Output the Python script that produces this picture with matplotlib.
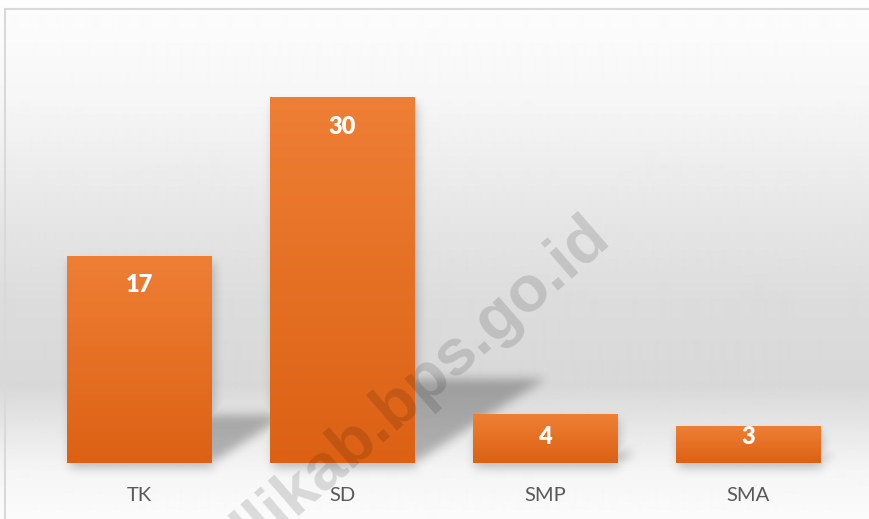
import numpy as np
import matplotlib.pyplot as plt
from matplotlib.colors import LinearSegmentedColormap
from matplotlib.patches import Rectangle
from matplotlib.path import Path

# ---- Data ----
CATEGORIES = ["TK", "SD", "SMP", "SMA"]
VALUES = [17, 30, 4, 3]
WATERMARK = "llikab.bps.go.id"

plt.rcParams["font.family"] = ["Lato", "DejaVu Sans"]

W, H, DPI = 870, 519, 100
fig = plt.figure(figsize=(W / DPI, H / DPI), dpi=DPI)

# ---- background: soft grey vertical gradient + thin frame ----
bg = fig.add_axes([0, 0, 1, 1], zorder=0)
rows = np.arange(H)
shade = np.interp(rows, [0, 100, 200, 300, 385, 420, 470, 519],
                  [253, 246, 232, 220, 216, 228, 245, 251]) / 255
bg.imshow(shade[:, None], cmap="gray", vmin=0, vmax=1, extent=(0, 1, 0, 1),
          aspect="auto", interpolation="bilinear")
bg.add_patch(Rectangle((5.5 / W, -0.1), 1.2, (H - 8.5) / H + 0.1,
                       fill=False, ec="#d9d9d9", lw=1.5))
bg.set_xlim(0, 1)
bg.set_ylim(0, 1)
bg.axis("off")

# ---- main axes ----
ax = fig.add_axes([37.5 / W, (H - 463) / H, 812 / W, (463 - 73.6) / H], zorder=1)
ax.patch.set_alpha(0)
x = np.arange(len(CATEGORIES))
bars = ax.bar(x, VALUES, width=0.71, color="none", zorder=3)
XLIM, YLIM = (-0.5, 3.5), (0, 32)

# ---- soft perspective shadows (blurred) ----
gy0, gy1 = -4, 32
nx, ny = 812, 438
gx, gyy = np.meshgrid(np.linspace(*XLIM, nx), np.linspace(gy0, gy1, ny))
pts = np.column_stack([gx.ravel(), gyy.ravel()])
persp = np.zeros(nx * ny)
drop = np.zeros(nx * ny)
for b in bars:
    x0, w, h = b.get_x(), b.get_width(), b.get_height()
    sh, sk = 0.23 * h, 0.0215 * h
    poly = Path([(x0, 0), (x0 + w, 0), (x0 + w + sk, sh), (x0 + sk, sh)])
    persp = np.maximum(persp, poly.contains_points(pts))
    under = Path([(x0 + 0.01, -0.45), (x0 + w + 0.01, -0.45),
                  (x0 + w + 0.01, h - 0.5), (x0 + 0.01, h - 0.5)])
    drop = np.maximum(drop, under.contains_points(pts))


def blur(m, sigma):
    k = np.exp(-0.5 * (np.arange(-3 * sigma, 3 * sigma + 1) / sigma) ** 2)
    k /= k.sum()
    m = np.apply_along_axis(lambda r: np.convolve(r, k, mode="same"), 1, m)
    return np.apply_along_axis(lambda c: np.convolve(c, k, mode="same"), 0, m)


alpha = np.maximum(blur(persp.reshape(ny, nx), 5) * 0.27,
                   blur(drop.reshape(ny, nx), 5) * 0.22)
rgba = np.zeros((ny, nx, 4))
rgba[..., 3] = alpha
ax.imshow(rgba, extent=(XLIM[0], XLIM[1], gy0, gy1), origin="lower",
          aspect="auto", zorder=1, clip_on=False, interpolation="bilinear")

# ---- gradient bars ----
orange = LinearSegmentedColormap.from_list("bar", ["#dc6114", "#ee7f35"])
grad = np.linspace(0, 1, 256)[:, None]
for b in bars:
    x0, w, h = b.get_x(), b.get_width(), b.get_height()
    ax.imshow(grad, cmap=orange, extent=(x0, x0 + w, 0, h), origin="lower",
              aspect="auto", zorder=2, interpolation="bilinear")

for xi, v in zip(x, VALUES):
    ax.text(xi, max(v - 2.35, 2.15), str(v), ha="center", va="center",
            color="white", fontsize=17, fontweight="heavy", zorder=4)

ax.set_xlim(*XLIM)
ax.set_ylim(*YLIM)
ax.set_xticks(x, CATEGORIES)
ax.set_yticks([])
ax.tick_params(length=0, pad=17, labelsize=14.5, labelcolor="#595959")
for s in ax.spines.values():
    s.set_visible(False)

# ---- watermark ----
fig.text(612 / W, 1 - 240 / H, WATERMARK, rotation=41, rotation_mode="anchor",
         ha="right", va="baseline", fontsize=47, fontweight="bold",
         family="Liberation Sans", color="black", alpha=0.13, zorder=5)

fig.savefig("out.png", dpi=DPI)
